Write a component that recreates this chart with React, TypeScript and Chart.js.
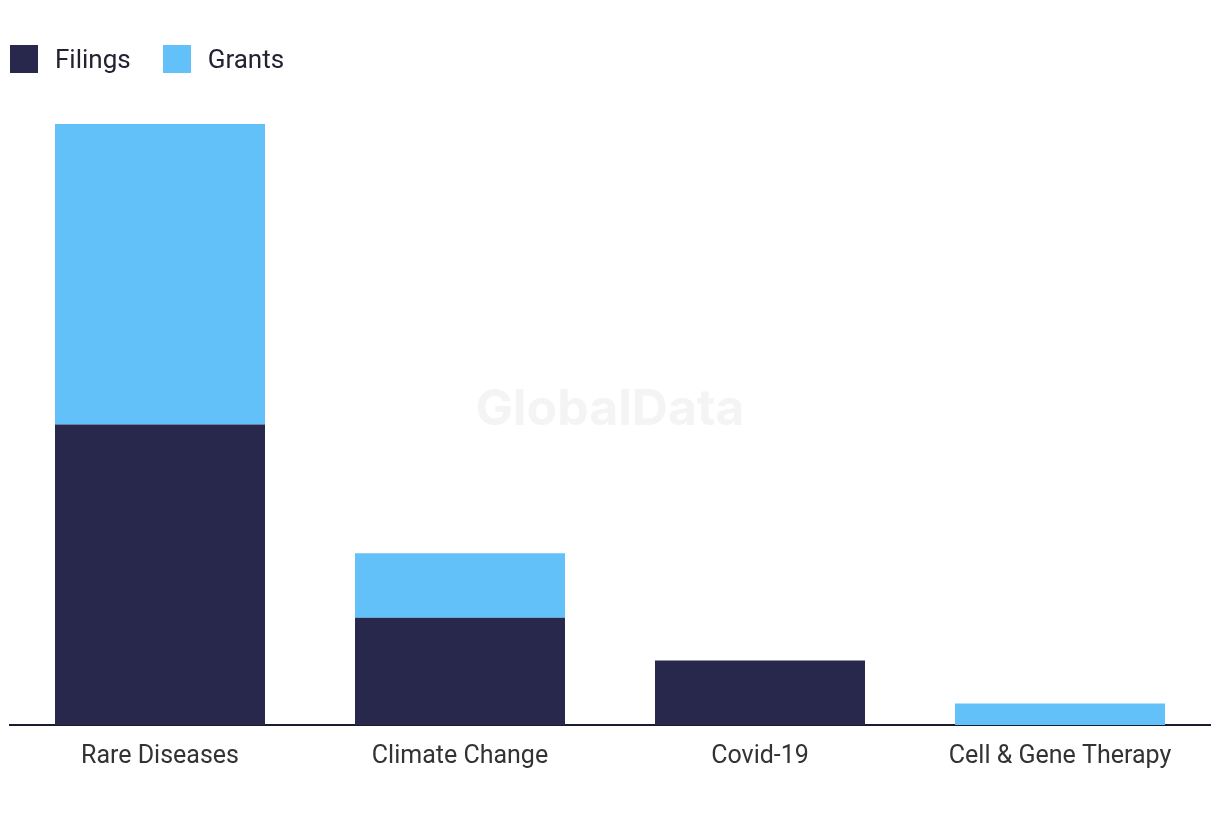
import React, { useEffect, useRef } from "react";
import { Chart, registerables } from "chart.js";

Chart.register(...registerables);

const categories = ["Rare Diseases", "Climate Change", "Covid-19", "Cell & Gene Therapy"];
const filings = [14, 5, 3, 0];
const grants = [14, 3, 0, 1];
const seriesNames = ["Filings", "Grants"];
const seriesColors = ["#27284c", "#62c1f8"];

const watermark = {
  id: "watermark",
  beforeDatasetsDraw(chart: any) {
    const { ctx, chartArea } = chart;
    ctx.save();
    ctx.font = "bold 50px Inter, Roboto, sans-serif";
    ctx.fillStyle = "#f4f4f4";
    ctx.textAlign = "center";
    ctx.textBaseline = "middle";
    ctx.fillText("GlobalData", (chartArea.left + chartArea.right) / 2, 410);
    ctx.restore();
  },
};

export default function App() {
  const ref = useRef<HTMLCanvasElement>(null);
  useEffect(() => {
    document.body.style.margin = "0";
    const chart = new Chart(ref.current!, {
      type: "bar",
      data: {
        labels: categories,
        datasets: [
          { label: seriesNames[0], data: filings, backgroundColor: seriesColors[0] },
          { label: seriesNames[1], data: grants, backgroundColor: seriesColors[1] },
        ],
      },
      options: {
        animation: false,
        responsive: false,
        maintainAspectRatio: false,
        layout: { padding: { left: 10, right: 10, top: 124, bottom: 31 } },
        datasets: { bar: { barPercentage: 0.7, categoryPercentage: 1 } },
        plugins: { legend: { display: false }, tooltip: { enabled: false } },
        scales: {
          x: {
            stacked: true,
            grid: { display: false, drawTicks: false },
            border: { display: true, color: "#1c1c30", width: 2 },
            ticks: { color: "#333333", font: { family: "Roboto", size: 25 }, padding: 17 },
          },
          y: { stacked: true, display: false, min: 0, max: 28 },
        },
      },
      plugins: [watermark],
    });
    return () => chart.destroy();
  }, []);

  const item = (name: string, color: string) => (
    <div style={{ display: "flex", alignItems: "center", marginRight: 32 }}>
      <div style={{ width: 28, height: 28, background: color, marginRight: 17 }} />
      <span style={{ fontFamily: "Roboto", fontSize: 26, color: "#222233" }}>{name}</span>
    </div>
  );

  return (
    <div style={{ position: "relative", width: 1220, height: 820 }}>
      <canvas ref={ref} width={1220} height={820} />
      <div style={{ position: "absolute", left: 10, top: 45, display: "flex", height: 28 }}>
        {item(seriesNames[0], seriesColors[0])}
        {item(seriesNames[1], seriesColors[1])}
      </div>
    </div>
  );
}
